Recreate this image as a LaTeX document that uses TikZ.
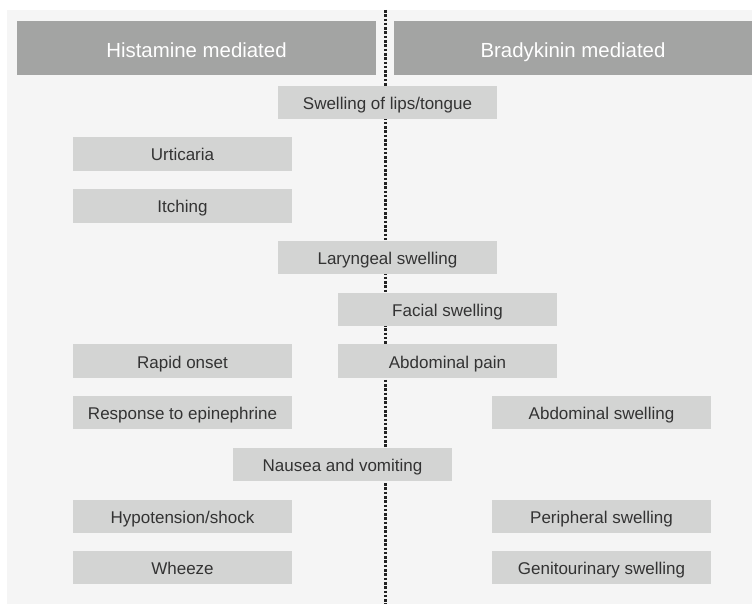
\documentclass[tikz,border=0pt]{standalone}
\usepackage{fontspec}
\setmainfont{Liberation Sans}
\definecolor{bgc}{HTML}{F5F5F5}
\definecolor{hdrc}{HTML}{A3A4A3}
\definecolor{boxc}{HTML}{D3D4D3}
\definecolor{txtc}{HTML}{333333}
\definecolor{dotc}{HTML}{222222}
\begin{document}
\begin{tikzpicture}[x=1pt,y=-1pt,
  hdr/.style={fill=hdrc, draw=none, minimum height=54pt, inner sep=0pt, text=white, text height=20pt, text depth=1.4pt, font=\fontsize{20.4}{24}\selectfont},
  sym/.style={fill=boxc, draw=none, minimum width=219pt, minimum height=33.5pt, inner sep=0pt, text=txtc, text height=16pt, text depth=2pt, font=\fontsize{17}{20}\selectfont},
  divider/.style={dotc, line width=2.6pt, dash pattern=on 2.6pt off 1.7pt}]
\useasboundingbox (0,0) rectangle (752,604);
\fill[white] (0,0) rectangle (752,604);
\fill[bgc] (7,10) rectangle (752,604);
\coordinate (dtop) at (385.5,10);
\coordinate (dbot) at (385.5,604);
\draw[divider] (dtop) -- (dbot);
\node[hdr, minimum width=359pt] (hist) at (196.5,48) {Histamine mediated};
\node[hdr, minimum width=358pt] (brad) at (573,48) {Bradykinin mediated};
\node[sym] (lips) at (387.5,102.75) {Swelling of lips/tongue};
\node[sym] (urt) at (182.5,154) {Urticaria};
\node[sym] (itch) at (182.5,205.8) {Itching};
\node[sym] (lar) at (387.5,257.7) {Laryngeal swelling};
\node[sym] (fac) at (447.5,309.4) {Facial swelling};
\node[sym] (rapid) at (182.5,361) {Rapid onset};
\node[sym] (abp) at (447.5,361) {Abdominal pain};
\node[sym] (epi) at (182.5,412.7) {Response to epinephrine};
\node[sym] (abs) at (601.5,412.7) {Abdominal swelling};
\node[sym] (naus) at (342.5,464.5) {Nausea and vomiting};
\node[sym] (hypo) at (182.5,516.3) {Hypotension/shock};
\node[sym] (per) at (601.5,516.3) {Peripheral swelling};
\node[sym] (whz) at (182.5,567.6) {Wheeze};
\node[sym] (gen) at (601.5,567.6) {Genitourinary swelling};
\end{tikzpicture}
\end{document}
